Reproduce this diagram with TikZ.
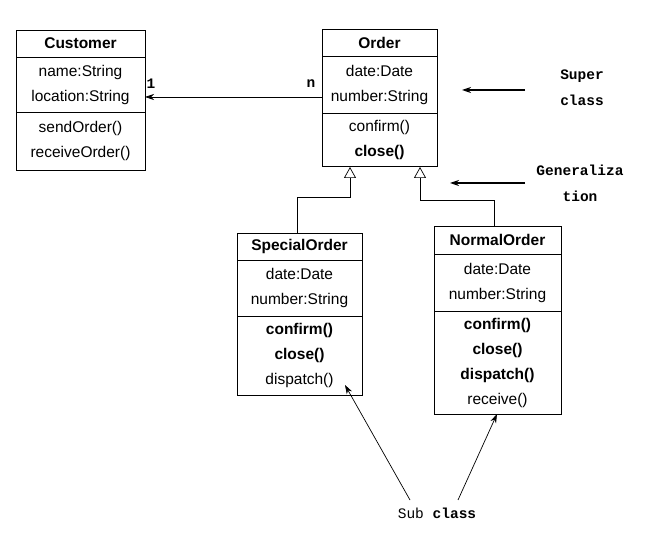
\documentclass[tikz,border=0pt]{standalone}
\usepackage{fontspec}
\setmainfont{Liberation Sans}
\newfontfamily\monof{Liberation Mono}
\usetikzlibrary{arrows.meta,positioning}
\begin{document}
\begin{tikzpicture}[x=1pt,y=-1pt,
  box/.style={draw,line width=0.8pt,anchor=north west,inner sep=0pt},
  txt/.style={font=\fontsize{15.5}{25}\selectfont},
  ttl/.style={font=\bfseries\fontsize{15.5}{25}\selectfont},
  note/.style={font=\monof\bfseries\fontsize{14.5}{26}\selectfont,align=center},
  gen/.style={-{Triangle[open,length=11pt,width=12pt]},line width=0.7pt},
  arr/.style={-{Stealth[length=9pt,width=6pt]},line width=0.7pt}]
\useasboundingbox (0,0) rectangle (651,534);
% Customer
\node[box,minimum width=129pt,minimum height=140pt] (cust) at (16,30) {};
\draw[line width=0.8pt] (16,57)--(145,57) (16,112)--(145,112);
\node[ttl] (ct) at (80.5,43.5) {Customer};
\node[txt,align=center] (ca) at (80.5,84.5) {name:String\\location:String};
\node[txt,align=center] (cm) at (80.5,141) {sendOrder()\\receiveOrder()};
% Order
\node[box,minimum width=115pt,minimum height=137pt] (ord) at (322,29) {};
\draw[line width=0.8pt] (322,56)--(437,56) (322,113)--(437,113);
\node[ttl] (ot) at (379.5,42.5) {Order};
\node[txt,align=center] (oa) at (379.5,84.5) {date:Date\\number:String};
\node[txt,align=center] (om) at (379.5,139.5) {confirm()\\\textbf{close()}};
% SpecialOrder
\node[box,minimum width=125pt,minimum height=162pt] (sp) at (237,233) {};
\draw[line width=0.8pt] (237,260)--(362,260) (237,316)--(362,316);
\node[ttl] (st) at (299.5,246.5) {SpecialOrder};
\node[txt,align=center] (sa) at (299.5,288) {date:Date\\number:String};
\node[txt,align=center] (sm) at (299.5,355.5) {\textbf{confirm()}\\\textbf{close()}\\dispatch()};
% NormalOrder
\node[box,minimum width=127pt,minimum height=188pt] (no) at (434,226) {};
\draw[line width=0.8pt] (434,254)--(561,254) (434,311)--(561,311);
\node[ttl] (nt) at (497.5,240) {NormalOrder};
\node[txt,align=center] (na) at (497.5,282.5) {date:Date\\number:String};
\node[txt,align=center] (nm) at (497.5,362.5) {\textbf{confirm()}\\\textbf{close()}\\\textbf{dispatch()}\\receive()};
% association
\coordinate (a1) at (322,97); \coordinate (a2) at (145,97);
\draw[arr] (a1)--(a2);
\node[note] (l1) at (151,84) {1};
\node[note] (ln) at (311,84) {n};
% generalizations
\coordinate (g1) at (350,167); \coordinate (g2) at (420,167);
\coordinate (s1) at (297,197); \coordinate (s2) at (350,197);
\coordinate (n1) at (494,200); \coordinate (n2) at (420,200);
\draw[gen] (sp.north west -| s1) -- (s1) -- (s2) -- (g1);
\draw[gen] (no.north west -| n1) -- (n1) -- (n2) -- (g2);
% notes
\node[note] (sup) at (582,88) {Super\\class};
\node[note] (gz) at (580,183) {Generaliza\\tion};
\node[note] (sub) at (437,513) {\mdseries Sub \bfseries class};
\coordinate (p1) at (525,90); \coordinate (p2) at (462,90);
\coordinate (q1) at (525,183); \coordinate (q2) at (450,183);
\draw[arr,line width=1.2pt] (p1)--(p2);
\draw[arr,line width=1.2pt] (q1)--(q2);
\coordinate (r1) at (410,500); \coordinate (r2) at (345,385);
\coordinate (t1) at (458,500); \coordinate (t2) at (497,414);
\draw[arr] (r1)--(r2);
\draw[arr] (t1)--(t2);
\end{tikzpicture}
\end{document}
